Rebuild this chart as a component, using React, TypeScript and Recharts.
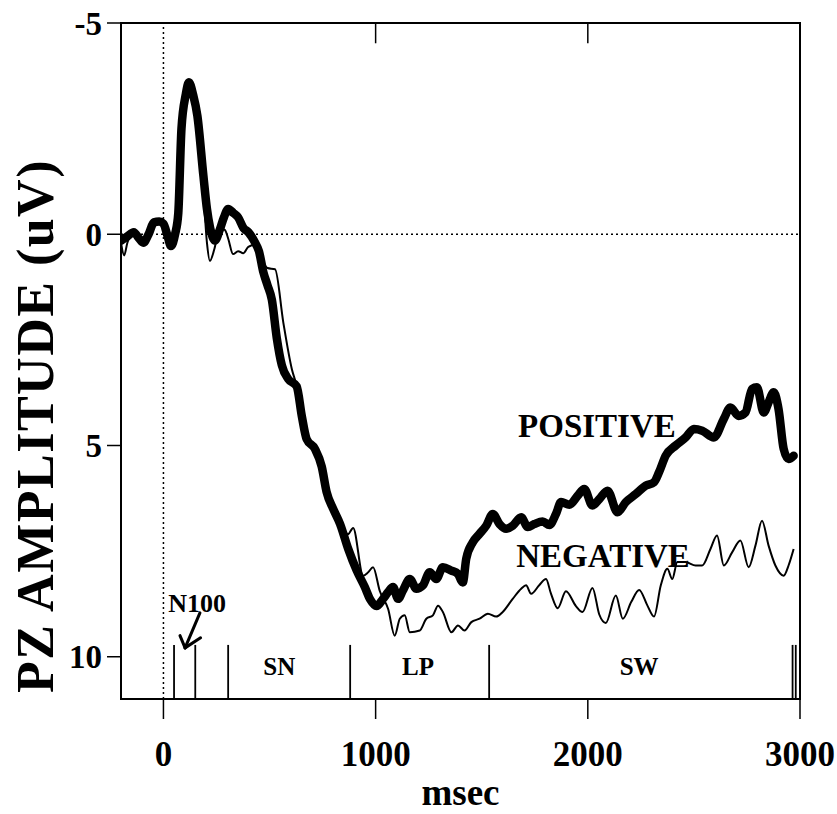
import React from 'react';
import {
  LineChart,
  Line,
  XAxis,
  YAxis,
  ReferenceLine,
  ReferenceArea,
  ReferenceDot,
} from 'recharts';

const FONT = '"Liberation Serif", "Times New Roman", serif';

// POSITIVE (thick trace), msec / uV
const positiveMs = [
  -200, -170, -140, -115, -95, -70, -45, -20, 0, 20,
  35, 55, 70, 85, 105, 120, 140, 160, 188, 205,
  220, 243, 265, 285, 305, 330, 352, 377, 400, 432,
  450, 471, 490, 511, 534, 558, 589, 628, 652, 675,
  714, 746, 769, 800, 832, 871, 910, 949, 975, 1004,
  1035, 1059, 1082, 1106, 1129, 1161, 1192, 1223, 1255, 1286,
  1317, 1357, 1388, 1411, 1427, 1458, 1490, 1521, 1552, 1584,
  1615, 1646, 1686, 1717, 1748, 1787, 1819, 1850, 1874, 1913,
  1952, 1983, 2022, 2054, 2093, 2140, 2179, 2226, 2273, 2312,
  2336, 2367, 2414, 2461, 2500, 2539, 2594, 2641, 2672, 2711,
  2743, 2774, 2797, 2829, 2852, 2876, 2899, 2923, 2946, 2970,
];
const positiveUv = [
  0.15, 0.05, -0.05, 0.1, 0.2, 0.0, -0.28, -0.3, -0.25, 0.05,
  0.28, 0.0, -0.5, -2.5, -3.3, -3.6, -3.3, -2.8, -1.4, -0.6,
  -0.15, 0.15, -0.1, -0.4, -0.6, -0.5, -0.4, -0.15, -0.05, 0.2,
  0.4, 0.9, 1.2, 1.55, 2.45, 3.1, 3.43, 3.6, 4.3, 4.85,
  5.08, 5.5, 6.1, 6.5, 6.85, 7.45, 7.95, 8.35, 8.65, 8.8,
  8.63, 8.47, 8.35, 8.63, 8.43, 8.16, 8.39, 8.31, 8.0, 8.16,
  7.88, 7.96, 8.04, 8.24, 7.68, 7.29, 7.09, 6.9, 6.62, 6.86,
  6.97, 6.9, 6.7, 6.93, 6.86, 6.8, 6.88, 6.62, 6.34, 6.4,
  6.19, 6.03, 6.42, 6.27, 6.07, 6.58, 6.34, 6.15, 5.95, 5.87,
  5.63, 5.24, 5.0, 4.81, 4.61, 4.65, 4.81, 4.37, 4.1, 4.3,
  4.22, 3.66, 3.62, 4.22, 3.98, 3.74, 4.14, 5.08, 5.32, 5.24,
];

// NEGATIVE (thin trace)
const negativeMs = [
  -200, -185, -170, -140, -115, -95, -70, -45, -20, 0,
  20, 35, 55, 70, 85, 105, 120, 140, 160, 188,
  205, 219, 240, 265, 290, 305, 328, 352, 376, 400,
  432, 460, 490, 526, 565, 605, 628, 652, 675, 714,
  746, 769, 800, 832, 870, 894, 941, 965, 988, 1020,
  1059, 1090, 1114, 1137, 1161, 1208, 1239, 1270, 1294, 1317,
  1357, 1388, 1419, 1451, 1490, 1529, 1568, 1599, 1646, 1686,
  1709, 1733, 1772, 1803, 1826, 1858, 1897, 1944, 1975, 2022,
  2054, 2085, 2132, 2165, 2205, 2242, 2281, 2312, 2344, 2375,
  2398, 2422, 2461, 2508, 2539, 2578, 2609, 2641, 2680, 2719,
  2758, 2790, 2821, 2852, 2884, 2923, 2946, 2970,
];
const negativeUv = [
  0.2, 0.5, 0.2, -0.05, 0.1, 0.2, 0.0, -0.28, -0.3, -0.25,
  0.05, 0.28, 0.0, -0.5, -2.5, -3.3, -3.6, -3.3, -2.6, -1.0,
  0.2, 0.63, 0.35, -0.15, -0.1, 0.1, 0.47, 0.4, 0.45, 0.3,
  0.25, 0.55, 0.8, 0.83, 2.09, 3.19, 3.6, 4.3, 4.85, 5.08,
  5.48, 6.1, 6.5, 6.8, 7.1, 6.95, 8.08, 8.0, 7.88, 8.45,
  8.87, 9.5, 9.1, 9.02, 9.42, 9.38, 9.1, 9.02, 8.79, 8.94,
  9.42, 9.26, 9.38, 9.18, 9.1, 8.98, 9.05, 8.94, 8.63, 8.39,
  8.31, 8.51, 8.3, 8.16, 8.5, 8.85, 8.45, 8.8, 8.94, 8.37,
  9.0, 9.2, 8.55, 9.1, 8.7, 8.42, 8.79, 9.05, 8.31, 7.92,
  8.16, 7.76, 7.76, 7.84, 7.84, 7.45, 7.13, 7.84, 7.53, 7.25,
  7.88, 7.37, 6.78, 7.37, 7.84, 8.08, 7.84, 7.45,
];

const xTicks = [0, 1000, 2000, 3000];
const yTicks = [-5, 0, 5, 10];
// inner tick marks hanging from the top frame
const topTicks = [1000, 2000];

// analysis window boundaries along the bottom
const windowMarks = [50, 150, 305, 880, 1535, 2965, 2980];
const windowLabels = [
  { text: 'SN', ms: 546, uv: 10.22 },
  { text: 'LP', ms: 1200, uv: 10.22 },
  { text: 'SW', ms: 2242, uv: 10.22 },
];
const traceLabels = [
  { text: 'POSITIVE', ms: 2043, uv: 4.51 },
  { text: 'NEGATIVE', ms: 2072, uv: 7.59 },
];
const n100Label = { text: 'N100', ms: 159, uv: 8.72 };
// arrow: shaft and two barbs, all ending at the tip
const arrowTip = { x: 102, y: 9.79 };
const arrowTails = [
  { x: 172, y: 8.96 },
  { x: 78, y: 9.5 },
  { x: 175, y: 9.55 },
];

const positiveData = positiveMs.map((ms, i) => ({ ms, uv: positiveUv[i] }));
const negativeData = negativeMs.map((ms, i) => ({ ms, uv: negativeUv[i] }));

const textLabel = (value: string, fontSize: number) => ({
  value,
  position: 'center' as const,
  fontSize,
  fontWeight: 'bold',
  fontFamily: FONT,
  fill: '#000',
});

const YTitle = () => (
  <text
    x={35}
    y={426}
    transform="rotate(-90 35 426)"
    textAnchor="middle"
    dominantBaseline="central"
    fontSize={52}
    fontWeight="bold"
    fontFamily={FONT}
    letterSpacing={1.5}
    fill="#000"
  >
    PZ AMPLITUDE (uV)
  </text>
);

const App: React.FC = () => {
  return (
    <div style={{ position: 'absolute', left: 0, top: 0, background: '#fff' }}>
      <LineChart
        width={837}
        height={814}
        margin={{ top: 23, right: 37, left: 0, bottom: 0 }}
      >
        <XAxis
          dataKey="ms"
          type="number"
          domain={[-200, 3000]}
          ticks={xTicks}
          allowDataOverflow
          height={115}
          tickSize={20}
          tickMargin={22}
          axisLine={false}
          tickLine={{ stroke: '#000', strokeWidth: 1.5 }}
          tick={{ fontSize: 35, fontWeight: 'bold', fill: '#000', fontFamily: FONT }}
          label={{
            value: 'msec',
            position: 'insideBottom',
            offset: 9,
            fontSize: 37,
            fontWeight: 'bold',
            fill: '#000',
            fontFamily: FONT,
          }}
        />
        <YAxis
          type="number"
          reversed
          domain={[-5, 11]}
          ticks={yTicks}
          allowDataOverflow
          width={121}
          tickSize={14}
          tickMargin={5}
          axisLine={false}
          tickLine={{ stroke: '#000', strokeWidth: 1.5 }}
          tick={{ fontSize: 33, fontWeight: 'bold', fill: '#000', fontFamily: FONT }}
          label={{ content: () => <YTitle /> }}
        />

        <ReferenceArea
          x1={-200}
          x2={3000}
          y1={-5}
          y2={11}
          fill="none"
          stroke="#000"
          strokeWidth={2}
          fillOpacity={0}
        />
        <ReferenceLine x={0} stroke="#000" strokeWidth={1.5} strokeDasharray="2 3" />
        <ReferenceLine y={0} stroke="#000" strokeWidth={1.5} strokeDasharray="2 3" />

        {topTicks.map((ms) => (
          <ReferenceLine
            key={`top-${ms}`}
            segment={[
              { x: ms, y: -5 },
              { x: ms, y: -4.52 },
            ]}
            stroke="#000"
            strokeWidth={1.5}
          />
        ))}
        {windowMarks.map((ms) => (
          <ReferenceLine
            key={`mark-${ms}`}
            segment={[
              { x: ms, y: 9.72 },
              { x: ms, y: 11 },
            ]}
            stroke="#000"
            strokeWidth={1.8}
          />
        ))}
        {arrowTails.map((p, i) => (
          <ReferenceLine
            key={`arrow-${i}`}
            segment={[p, arrowTip]}
            stroke="#000"
            strokeWidth={3}
            strokeLinecap="round"
          />
        ))}

        {windowLabels.map((l) => (
          <ReferenceDot
            key={l.text}
            x={l.ms}
            y={l.uv}
            r={0}
            fill="none"
            stroke="none"
            label={textLabel(l.text, 25)}
          />
        ))}
        <ReferenceDot
          x={n100Label.ms}
          y={n100Label.uv}
          r={0}
          fill="none"
          stroke="none"
          label={textLabel(n100Label.text, 26)}
        />
        {traceLabels.map((l) => (
          <ReferenceDot
            key={l.text}
            x={l.ms}
            y={l.uv}
            r={0}
            fill="none"
            stroke="none"
            label={textLabel(l.text, 33)}
          />
        ))}

        <Line
          data={negativeData}
          dataKey="uv"
          type="monotone"
          stroke="#000"
          strokeWidth={2}
          dot={false}
          isAnimationActive={false}
        />
        <Line
          data={positiveData}
          dataKey="uv"
          type="monotone"
          stroke="#000"
          strokeWidth={8.5}
          strokeLinejoin="round"
          strokeLinecap="round"
          dot={false}
          isAnimationActive={false}
        />
      </LineChart>
    </div>
  );
};

export default App;
